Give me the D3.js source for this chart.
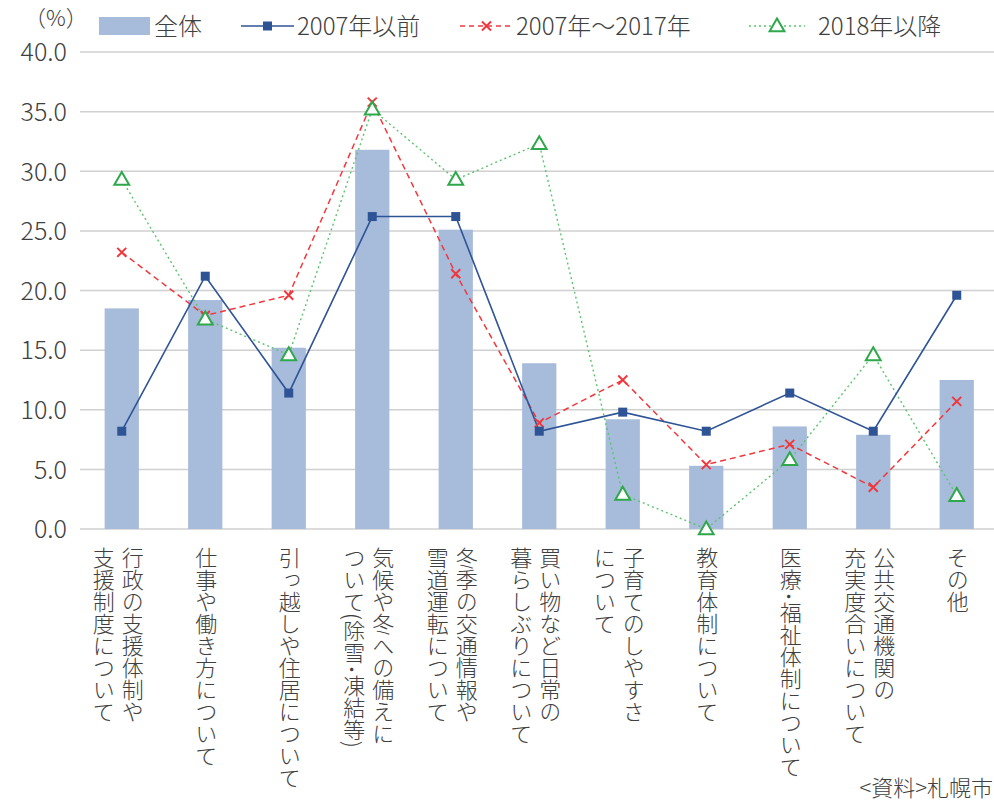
<!DOCTYPE html>
<html lang="ja">
<head>
<meta charset="utf-8">
<script src="https://cdn.jsdelivr.net/npm/d3@7"></script>
<style>
  html, body { margin: 0; padding: 0; background: #fff; }
  svg { display: block; font-family: "Noto Sans CJK JP", "Noto Sans", sans-serif; font-weight: 300; }
  .vlabel { writing-mode: vertical-rl; text-orientation: mixed; }
</style>
</head>
<body>
<svg id="chart" width="994" height="806"></svg>
<script>
// Category labels (each entry = lines of vertical text, right column first)
const categories = [
  ["行政の支援体制や", "支援制度について"],
  ["仕事や働き方について"],
  ["引っ越しや住居について"],
  ["気候や冬への備えに", "ついて(除雪･凍結等)"],
  ["冬季の交通情報や", "雪道運転について"],
  ["買い物など日常の", "暮らしぶりについて"],
  ["子育てのしやすさ", "について"],
  ["教育体制について"],
  ["医療･福祉体制について"],
  ["公共交通機関の", "充実度合いについて"],
  ["その他"]
];

// Share of respondents (%)
const totalValues  = [18.5, 19.2, 15.2, 31.8, 25.1, 13.9, 9.2, 5.3, 8.6, 7.9, 12.5];
const before2007   = [8.2, 21.2, 11.4, 26.2, 26.2, 8.2, 9.8, 8.2, 11.4, 8.2, 19.6];
const from2007to17 = [23.2, 17.9, 19.6, 35.8, 21.4, 8.9, 12.5, 5.4, 7.1, 3.5, 10.7];
const since2018    = [29.3, 17.6, 14.6, 35.2, 29.3, 32.3, 2.9, 0.0, 5.8, 14.6, 2.8];

const yTicks = [0, 5, 10, 15, 20, 25, 30, 35, 40];

const seriesNames = ["全体", "2007年以前", "2007年～2017年", "2018年以降"];

const W = 994, H = 806;
const svg = d3.select("#chart");
const keys = d3.range(categories.length);

const x = d3.scaleBand()
  .domain(keys)
  .range([80, 998.5])
  .paddingInner(0.59)
  .paddingOuter(0.295);
const cx = i => x(i) + x.bandwidth() / 2;

const y = d3.scaleLinear().domain([0, 40]).range([529, 52]);

const textColor = "#404040";
const gridColor = "#d0d0d0";
const barColor = "#a7bbdb";
const blue = "#2f5496";
const red = "#f0383c";
const green = "#2ea84a";
const lightGreen = "#5cc36f";

// Horizontal gridlines
svg.append("g")
  .selectAll("line")
  .data(yTicks)
  .join("line")
  .attr("x1", 80).attr("x2", W)
  .attr("y1", d => y(d)).attr("y2", d => y(d))
  .attr("stroke", gridColor)
  .attr("stroke-width", 1.5);

// Y axis tick labels
const yAxis = d3.axisLeft(y).tickValues(yTicks).tickFormat(d3.format(".1f")).tickSize(0).tickPadding(0);
const yg = svg.append("g").attr("transform", "translate(67,0)").call(yAxis);
yg.select(".domain").remove();
yg.selectAll("text")
  .attr("fill", textColor)
  .style("font-size", "25px")
  .style("font-family", "'Noto Sans CJK JP', 'Noto Sans', sans-serif")
  .style("font-weight", 300)
  .attr("dy", "0.35em");

// Unit
svg.append("text")
  .attr("x", 24).attr("y", 26)
  .attr("fill", textColor)
  .style("font-size", "22px")
  .text("（%）");

// Bars: 全体
svg.append("g")
  .selectAll("rect")
  .data(totalValues)
  .join("rect")
  .attr("x", (d, i) => x(i))
  .attr("width", x.bandwidth())
  .attr("y", d => y(d))
  .attr("height", d => y(0) - y(d))
  .attr("fill", barColor);

const line = d3.line().x((d, i) => cx(i)).y(d => y(d));

// 2018年以降: green dotted with hollow triangles
svg.append("path")
  .datum(since2018)
  .attr("d", line)
  .attr("fill", "none")
  .attr("stroke", lightGreen)
  .attr("stroke-width", 1.4)
  .attr("stroke-dasharray", "2,3");

// 2007年～2017年: red dashed with x markers
svg.append("path")
  .datum(from2007to17)
  .attr("d", line)
  .attr("fill", "none")
  .attr("stroke", red)
  .attr("stroke-width", 1.5)
  .attr("stroke-dasharray", "6,4");

// 2007年以前: blue solid with square markers
svg.append("path")
  .datum(before2007)
  .attr("d", line)
  .attr("fill", "none")
  .attr("stroke", blue)
  .attr("stroke-width", 1.6);

const crossPath = s => `M${-s},${-s}L${s},${s}M${-s},${s}L${s},${-s}`;
const triPath = d3.symbol().type(d3.symbolTriangle).size(95);

svg.append("g")
  .selectAll("path")
  .data(from2007to17)
  .join("path")
  .attr("transform", (d, i) => `translate(${cx(i)},${y(d)})`)
  .attr("d", crossPath(4.5))
  .attr("stroke", red)
  .attr("stroke-width", 2)
  .attr("fill", "none");

svg.append("g")
  .selectAll("rect")
  .data(before2007)
  .join("rect")
  .attr("x", (d, i) => cx(i) - 4.5)
  .attr("y", d => y(d) - 4.5)
  .attr("width", 9).attr("height", 9)
  .attr("fill", blue);

svg.append("g")
  .selectAll("path")
  .data(since2018)
  .join("path")
  .attr("transform", (d, i) => `translate(${cx(i)},${y(d) + 1})`)
  .attr("d", triPath())
  .attr("stroke", green)
  .attr("stroke-width", 2)
  .attr("fill", "#fff");

// Category labels, vertical text
const lab = svg.append("g").attr("fill", textColor).style("font-size", "22px");
categories.forEach((lines, i) => {
  const offsets = lines.length === 2 ? [11, -18] : [1];
  lines.forEach((t, j) => {
    lab.append("text")
      .attr("class", "vlabel")
      .attr("x", cx(i) + offsets[j])
      .attr("y", 547)
      .text(t);
  });
});

// Legend
const lg = svg.append("g").style("font-size", "24px").attr("fill", textColor);
lg.append("rect").attr("x", 99).attr("y", 17).attr("width", 51).attr("height", 18).attr("fill", barColor);
lg.append("text").attr("x", 154).attr("y", 35).text(seriesNames[0]);

lg.append("line").attr("x1", 241).attr("x2", 294).attr("y1", 26).attr("y2", 26)
  .attr("stroke", blue).attr("stroke-width", 1.6);
lg.append("rect").attr("x", 263).attr("y", 21.5).attr("width", 9).attr("height", 9).attr("fill", blue);
lg.append("text").attr("x", 297).attr("y", 35).text(seriesNames[1]);

lg.append("line").attr("x1", 460).attr("x2", 513).attr("y1", 26).attr("y2", 26)
  .attr("stroke", red).attr("stroke-width", 1.5).attr("stroke-dasharray", "5,4");
lg.append("path").attr("transform", "translate(486.5,26)").attr("d", crossPath(4.5))
  .attr("stroke", red).attr("stroke-width", 2).attr("fill", "none");
lg.append("text").attr("x", 516).attr("y", 35).text(seriesNames[2]);

lg.append("line").attr("x1", 749).attr("x2", 805).attr("y1", 26).attr("y2", 26)
  .attr("stroke", lightGreen).attr("stroke-width", 1.4).attr("stroke-dasharray", "2,3");
lg.append("path").attr("transform", "translate(777,27)").attr("d", triPath())
  .attr("stroke", green).attr("stroke-width", 2).attr("fill", "#fff");
lg.append("text").attr("x", 818).attr("y", 35).text(seriesNames[3]);

// Source note
svg.append("text")
  .attr("x", 993).attr("y", 796)
  .attr("text-anchor", "end")
  .attr("fill", textColor)
  .style("font-size", "22px")
  .text("<資料>札幌市");
</script>
</body>
</html>
